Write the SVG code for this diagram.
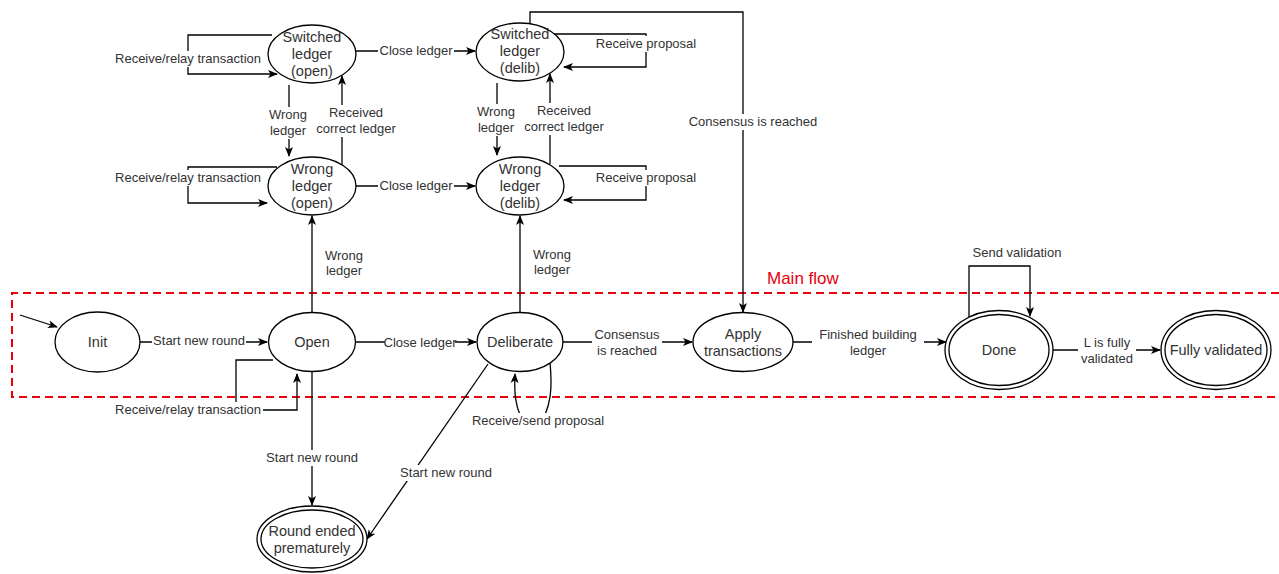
<svg xmlns="http://www.w3.org/2000/svg" width="1279" height="574" viewBox="0 0 1279 574">
<style>
.n{fill:#fff;stroke:#000;stroke-width:1.3}
.nt{font-family:"Liberation Sans",Arial,sans-serif;font-size:14.5px;fill:#333;text-anchor:middle}
.e{fill:none;stroke:#000;stroke-width:1.3}
.l{font-family:"Liberation Sans",Arial,sans-serif;font-size:13px;fill:#333;text-anchor:middle}
.bg{fill:#fff}
</style>
<defs>
<marker id="a" viewBox="0 0 10 10" refX="9" refY="5" markerWidth="10" markerHeight="10" markerUnits="userSpaceOnUse" orient="auto">
<path d="M0,1 L10,5 L0,9 L2.5,5 Z" fill="#000"/>
</marker>
</defs>
<rect x="0" y="0" width="1279" height="574" fill="#fff"/>
<g id="mainflow">
<path d="M1279,293 H12 V397 H1279" fill="none" stroke="#e8000d" stroke-width="2" stroke-dasharray="8 5"/>
<text x="767" y="284" font-family="'Liberation Sans',Arial,sans-serif" font-size="17" fill="#e8000d">Main flow</text>
</g>
<g id="connectors">
<path class="e" d="M20,315 L57,327" marker-end="url(#a)"/>
<path class="e" d="M140,342 H267" marker-end="url(#a)"/>
<path class="e" d="M273,360 H236 V410 H297 V374" marker-end="url(#a)"/>
<path class="e" d="M355,342 H476" marker-end="url(#a)"/>
<path class="e" d="M312,313 V216" marker-end="url(#a)"/>
<path class="e" d="M312,372 V505" marker-end="url(#a)"/>
<path class="e" d="M488,364 L367,539" marker-end="url(#a)"/>
<path class="e" d="M550,363 C553,392 549,405 545,415 M520,415 C516,405 514,395 515,374" marker-end="url(#a)"/>
<path class="e" d="M520,313 V216" marker-end="url(#a)"/>
<path class="e" d="M563,342 H692" marker-end="url(#a)"/>
<path class="e" d="M793,342 H946" marker-end="url(#a)"/>
<path class="e" d="M969,318 V266 H1030 V316" marker-end="url(#a)"/>
<path class="e" d="M1053,350 H1160" marker-end="url(#a)"/>
<path class="e" d="M530,24 V12 H743 V312" marker-end="url(#a)"/>
<path class="e" d="M272,35 H188 V74 H277" marker-end="url(#a)"/>
<path class="e" d="M277,167 H188 V203 H267" marker-end="url(#a)"/>
<path class="e" d="M289,85 V156" marker-end="url(#a)"/>
<path class="e" d="M342,166 V76" marker-end="url(#a)"/>
<path class="e" d="M356,51 H475" marker-end="url(#a)"/>
<path class="e" d="M356,186 H475" marker-end="url(#a)"/>
<path class="e" d="M497,83 V155" marker-end="url(#a)"/>
<path class="e" d="M550,164 V74" marker-end="url(#a)"/>
<path class="e" d="M553,34 H646 V67 H564" marker-end="url(#a)"/>
<path class="e" d="M559,166 H646 V200 H564" marker-end="url(#a)"/>
<rect class="bg" x="152" y="333" width="94" height="16"/>
<text class="l" x="199" y="345">Start new round</text>
<rect class="bg" x="113" y="402" width="150" height="16"/>
<text class="l" x="188" y="414">Receive/relay transaction</text>
<rect class="bg" x="385" y="335" width="70" height="16"/>
<text class="l" x="420" y="347">Close ledger</text>
<text class="l" x="344" y="260">Wrong</text>
<text class="l" x="344" y="275">ledger</text>
<rect class="bg" x="262" y="450" width="100" height="16"/>
<text class="l" x="312" y="462">Start new round</text>
<rect class="bg" x="396" y="465" width="100" height="16"/>
<text class="l" x="446" y="477">Start new round</text>
<rect class="bg" x="468" y="413" width="140" height="16"/>
<text class="l" x="538" y="425">Receive/send proposal</text>
<text class="l" x="552" y="259">Wrong</text>
<text class="l" x="552" y="274">ledger</text>
<rect class="bg" x="592" y="326" width="70" height="32"/>
<text class="l" x="627" y="339">Consensus</text>
<text class="l" x="627" y="355">is reached</text>
<rect class="bg" x="812" y="326" width="112" height="32"/>
<text class="l" x="868" y="339">Finished building</text>
<text class="l" x="868" y="355">ledger</text>
<text class="l" x="1017" y="257">Send validation</text>
<rect class="bg" x="1078" y="334" width="58" height="32"/>
<text class="l" x="1107" y="347">L is fully</text>
<text class="l" x="1107" y="363">validated</text>
<rect class="bg" x="686" y="114" width="134" height="16"/>
<text class="l" x="753" y="126">Consensus is reached</text>
<rect class="bg" x="113" y="51" width="150" height="16"/>
<text class="l" x="188" y="63">Receive/relay transaction</text>
<rect class="bg" x="113" y="170" width="150" height="16"/>
<text class="l" x="188" y="182">Receive/relay transaction</text>
<rect class="bg" x="265" y="107" width="46" height="32"/>
<text class="l" x="288" y="119">Wrong</text>
<text class="l" x="288" y="135">ledger</text>
<rect class="bg" x="311" y="105" width="90" height="32"/>
<text class="l" x="356" y="117">Received</text>
<text class="l" x="356" y="133">correct ledger</text>
<rect class="bg" x="378" y="43" width="76" height="16"/>
<text class="l" x="416" y="55">Close ledger</text>
<rect class="bg" x="378" y="178" width="76" height="16"/>
<text class="l" x="416" y="190">Close ledger</text>
<rect class="bg" x="473" y="104" width="46" height="32"/>
<text class="l" x="496" y="116">Wrong</text>
<text class="l" x="496" y="132">ledger</text>
<rect class="bg" x="519" y="103" width="90" height="32"/>
<text class="l" x="564" y="115">Received</text>
<text class="l" x="564" y="131">correct ledger</text>
<rect class="bg" x="592" y="36" width="108" height="16"/>
<text class="l" x="646" y="48">Receive proposal</text>
<rect class="bg" x="592" y="170" width="108" height="16"/>
<text class="l" x="646" y="182">Receive proposal</text>
</g>
<g id="init"><ellipse class="n" cx="97.5" cy="342" rx="42.5" ry="30"/><text class="nt" x="97.5" y="347">Init</text></g>
<g id="open"><ellipse class="n" cx="312" cy="342" rx="43.5" ry="29.5"/><text class="nt" x="312" y="347">Open</text></g>
<g id="deliberate"><ellipse class="n" cx="520" cy="342" rx="43" ry="29.5"/><text class="nt" x="520" y="347">Deliberate</text></g>
<g id="apply"><ellipse class="n" cx="743" cy="342" rx="50" ry="29.5"/><text class="nt" x="743" y="339">Apply</text><text class="nt" x="743" y="356">transactions</text></g>
<g id="done"><ellipse class="n" cx="999" cy="350" rx="54" ry="39.5"/><ellipse class="n" cx="999" cy="350" rx="50" ry="35.5"/><text class="nt" x="999" y="355">Done</text></g>
<g id="fully"><ellipse class="n" cx="1216" cy="350" rx="55" ry="39.5"/><ellipse class="n" cx="1216" cy="350" rx="51" ry="35.5"/><text class="nt" x="1216" y="355">Fully validated</text></g>
<g id="roundended"><ellipse class="n" cx="312" cy="539" rx="55" ry="33"/><ellipse class="n" cx="312" cy="539" rx="51" ry="29"/><text class="nt" x="312" y="536">Round ended</text><text class="nt" x="312" y="553">prematurely</text></g>
<g id="switchedopen"><ellipse class="n" cx="312" cy="54" rx="44" ry="29"/><text class="nt" x="312" y="42">Switched</text><text class="nt" x="312" y="59">ledger</text><text class="nt" x="312" y="76">(open)</text></g>
<g id="wrongopen"><ellipse class="n" cx="312" cy="186" rx="44" ry="29"/><text class="nt" x="312" y="174">Wrong</text><text class="nt" x="312" y="191">ledger</text><text class="nt" x="312" y="208">(open)</text></g>
<g id="switcheddelib"><ellipse class="n" cx="520" cy="52" rx="44" ry="29"/><text class="nt" x="520" y="39">Switched</text><text class="nt" x="520" y="56">ledger</text><text class="nt" x="520" y="73">(delib)</text></g>
<g id="wrongdelib"><ellipse class="n" cx="520" cy="186" rx="44" ry="29"/><text class="nt" x="520" y="174">Wrong</text><text class="nt" x="520" y="191">ledger</text><text class="nt" x="520" y="208">(delib)</text></g>
</svg>
